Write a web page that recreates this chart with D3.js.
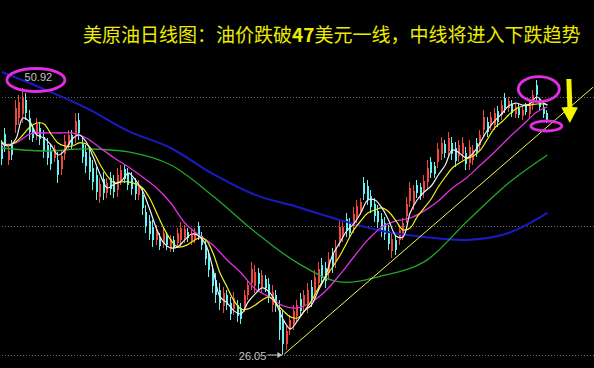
<!DOCTYPE html>
<html>
<head>
<meta charset="utf-8">
<script src="https://cdn.jsdelivr.net/npm/d3@7"></script>
<style>
  html, body { margin: 0; padding: 0; background: #000; overflow: hidden; }
  svg { display: block; }
</style>
</head>
<body>
<svg id="chart" width="594" height="368"></svg>
<script>
// ---- Data: WTI crude oil daily candles ----
const opens = [
  45.50, 46.63, 44.17, 45.61, 47.50, 48.17, 48.48, 49.82, 48.17, 47.07,
  46.59, 47.22, 46.36, 45.63, 45.03, 44.43, 44.24, 43.40, 44.79, 45.62,
  46.54, 46.50, 47.96, 45.68, 44.96, 44.45, 43.51, 42.79, 40.79, 42.45,
  41.15, 42.56, 42.28, 41.45, 42.36, 43.33, 42.96, 42.56, 42.03, 40.96,
  40.98, 39.38, 38.51, 38.00, 36.77, 37.02, 36.49, 37.09, 36.05, 36.77,
  36.49, 36.77, 36.91, 37.55, 36.65, 36.84, 38.02, 37.09, 36.19, 35.21,
  33.79, 32.99, 32.13, 30.58, 31.64, 30.92, 30.32, 30.67, 30.41, 30.57,
  31.65, 32.76, 32.48, 33.65, 32.43, 33.11, 32.65, 30.69, 31.60, 30.25,
  29.20, 27.11, 28.39, 28.97, 29.64, 31.27, 30.57, 30.67, 32.41, 31.88,
  32.76, 34.46, 34.11, 33.69, 35.44, 34.81, 36.75, 37.05, 38.72, 38.34,
  38.03, 38.89, 39.49, 42.09, 41.77, 40.88, 40.12, 39.49, 38.72, 38.37,
  37.58, 35.70, 36.76, 36.77, 37.28, 38.96, 40.42, 40.14, 41.93, 41.67,
  41.22, 42.12, 44.00, 43.66, 44.05, 44.75, 45.66, 45.07, 45.82, 45.31,
  44.54, 44.75, 44.89, 43.98, 44.22, 45.82, 45.62, 46.99, 47.75, 47.43,
  47.52, 48.75, 48.41, 49.98, 49.03, 49.40, 48.47, 49.10, 48.27, 49.24,
  48.54, 49.34, 51.19, 49.71, 49.17, 48.57
];
const highs = [
  46.08, 47.19, 45.43, 46.08, 49.80, 50.27, 50.92, 50.45, 48.87, 47.47,
  48.12, 47.75, 47.01, 46.26, 45.61, 45.61, 44.96, 45.15, 46.54, 47.01,
  47.01, 48.59, 48.59, 46.26, 45.61, 45.15, 44.21, 43.56, 42.54, 43.10,
  42.54, 43.10, 42.82, 43.47, 43.75, 43.75, 43.47, 43.10, 42.54, 42.35,
  41.61, 40.03, 39.09, 38.63, 38.16, 37.42, 37.88, 37.51, 37.23, 37.14,
  37.88, 38.44, 38.16, 37.88, 37.70, 37.88, 38.44, 37.51, 36.77, 35.84,
  34.44, 33.69, 32.76, 32.40, 32.11, 31.46, 31.92, 31.18, 30.90, 32.11,
  33.04, 34.72, 34.44, 34.16, 33.97, 33.51, 33.23, 32.58, 32.11, 31.18,
  30.25, 28.85, 29.78, 30.71, 31.18, 31.83, 32.11, 32.76, 33.04, 33.97,
  34.72, 35.09, 34.72, 35.65, 36.02, 36.77, 38.63, 38.44, 39.28, 38.81,
  39.84, 40.49, 40.68, 42.63, 42.35, 41.42, 40.68, 40.03, 39.28, 38.91,
  38.16, 37.51, 37.23, 38.16, 38.81, 40.77, 42.17, 41.89, 42.35, 42.07,
  42.82, 44.21, 44.49, 44.03, 45.80, 46.36, 46.08, 46.82, 46.36, 45.89,
  46.08, 46.36, 45.43, 46.08, 45.61, 46.26, 47.01, 48.87, 48.22, 48.68,
  49.06, 49.24, 49.80, 50.45, 50.08, 49.80, 49.52, 49.43, 49.24, 49.52,
  49.80, 50.73, 51.66, 49.99, 49.52, 48.87
];
const lows = [
  43.75, 44.96, 43.75, 44.21, 46.73, 47.47, 47.66, 47.94, 46.08, 45.89,
  46.08, 45.61, 44.40, 43.75, 43.28, 44.03, 42.07, 42.82, 44.21, 45.15,
  45.15, 45.80, 46.08, 43.93, 43.00, 42.35, 41.42, 40.49, 40.21, 40.49,
  40.68, 40.96, 40.68, 40.77, 41.89, 42.07, 41.42, 40.96, 40.49, 40.49,
  39.09, 37.42, 36.77, 36.12, 36.30, 35.84, 36.02, 35.84, 35.65, 35.65,
  36.02, 36.21, 36.49, 36.58, 36.30, 36.49, 36.77, 35.84, 34.44, 33.32,
  31.83, 30.90, 30.25, 29.97, 30.25, 29.32, 29.78, 29.13, 28.95, 30.06,
  31.18, 32.11, 31.83, 32.11, 31.92, 31.92, 30.90, 30.06, 30.06, 27.46,
  26.05, 26.53, 27.92, 28.39, 29.13, 29.60, 30.06, 29.97, 30.53, 31.18,
  32.11, 32.58, 32.30, 33.04, 33.69, 34.16, 36.12, 36.58, 37.05, 36.95,
  37.42, 38.35, 39.09, 40.49, 40.03, 39.28, 38.44, 37.88, 37.05, 36.77,
  35.84, 35.09, 35.37, 36.30, 36.77, 38.35, 39.84, 39.56, 40.68, 40.49,
  40.68, 41.42, 42.54, 42.54, 43.47, 44.21, 44.40, 44.49, 44.21, 43.56,
  44.03, 44.21, 43.28, 43.28, 43.75, 44.49, 45.15, 46.36, 46.36, 47.01,
  47.01, 47.29, 47.94, 48.59, 48.68, 48.22, 48.12, 48.12, 47.94, 48.40,
  48.12, 48.87, 49.80, 48.87, 48.12, 47.66
];
const closes = [
  44.33, 45.52, 45.01, 44.68, 49.03, 49.57, 50.10, 48.57, 46.78, 46.29,
  47.61, 46.14, 45.05, 44.38, 43.86, 45.21, 42.79, 44.57, 45.96, 46.54,
  45.62, 47.89, 46.71, 44.51, 43.65, 43.05, 42.12, 41.26, 41.96, 41.14,
  42.07, 41.50, 41.22, 42.79, 43.28, 42.49, 41.93, 41.50, 41.00, 41.88,
  39.72, 38.07, 37.35, 36.75, 37.69, 36.24, 37.41, 36.26, 36.83, 36.02,
  37.41, 37.88, 37.74, 36.91, 37.35, 37.53, 37.19, 36.26, 35.02, 33.95,
  32.48, 31.60, 30.88, 31.79, 30.72, 29.86, 31.38, 29.64, 29.44, 31.60,
  32.57, 34.07, 33.79, 32.62, 33.46, 32.32, 31.48, 31.95, 30.57, 28.39,
  27.10, 28.27, 29.31, 30.13, 30.67, 30.16, 31.60, 32.06, 31.16, 33.27,
  34.07, 33.21, 32.91, 35.00, 34.27, 36.12, 38.00, 37.97, 37.61, 37.42,
  39.23, 39.95, 40.28, 41.03, 40.61, 39.82, 39.00, 38.42, 37.61, 37.31,
  36.42, 36.90, 35.84, 37.69, 38.30, 40.16, 41.59, 41.31, 41.10, 40.89,
  42.28, 43.51, 43.03, 42.91, 45.22, 45.82, 44.82, 46.24, 44.75, 44.14,
  45.57, 45.82, 43.82, 45.38, 45.14, 44.93, 46.54, 48.24, 46.83, 48.26,
  48.55, 47.78, 49.33, 49.06, 49.73, 48.62, 49.17, 48.45, 48.91, 48.68,
  49.38, 50.26, 50.27, 49.15, 48.47, 47.96
];

// Moving averages, one value every `step` bars (plus the last bar)
const ma5Step = 2;
const ma5 = [
  45.80, 45.52, 46.17, 48.12, 47.75, 46.54, 46.26, 45.61, 44.68, 45.15,
  46.17, 46.54, 45.89, 44.49, 42.82, 41.61, 41.98, 42.26, 43.00, 42.35,
  41.33, 39.65, 37.79, 36.49, 36.02, 36.12, 36.77, 37.32, 37.14, 36.30,
  34.07, 31.46, 30.90, 30.16, 29.88, 30.99, 31.74, 32.30, 31.92, 30.81,
  29.32, 28.48, 29.22, 30.16, 30.71, 32.11, 33.41, 35.37, 36.49, 37.60,
  38.26, 39.28, 40.49, 40.49, 39.75, 38.54, 37.14, 37.05, 39.28, 40.49,
  41.23, 41.79, 42.82, 43.75, 45.15, 44.87, 44.40, 44.87, 45.89, 47.01,
  47.84, 48.50, 49.24, 49.52, 49.33, 49.43, 50.08, 49.52, 49.33
];
const ma10Step = 2;
const ma10 = [
  45.89, 45.61, 45.89, 46.54, 47.29, 47.66, 47.57, 46.63, 45.80, 45.52,
  45.52, 45.80, 45.70, 44.96, 43.75, 42.72, 42.07, 42.17, 42.17, 41.98,
  41.61, 40.68, 39.28, 37.88, 36.77, 36.11, 36.21, 36.58, 36.95, 36.77,
  35.56, 33.69, 32.39, 31.09, 30.34, 30.34, 30.71, 31.18, 31.46, 30.81,
  30.16, 29.60, 29.50, 30.16, 31.09, 32.30, 33.32, 34.25, 35.27, 36.49,
  37.70, 38.54, 39.28, 39.56, 39.75, 39.37, 38.54, 37.70, 37.88, 38.91,
  39.75, 40.58, 41.70, 42.63, 43.47, 43.93, 44.31, 44.59, 45.15, 46.17,
  47.19, 47.75, 48.40, 48.96, 49.24, 49.33, 49.43, 49.43, 49.33
];
const ma20Step = 4;
const ma20 = [
  45.61, 45.80, 46.63, 46.73, 46.73, 46.73, 46.26, 45.33, 44.40, 43.56,
  42.63, 41.61, 40.21, 38.35, 37.23, 36.30, 34.90, 33.69, 32.20, 31.46,
  30.62, 30.43, 30.99, 32.02, 33.51, 35.18, 36.77, 37.98, 38.54, 38.81,
  39.47, 40.40, 41.61, 42.54, 43.75, 44.96, 46.26, 47.47, 48.68, 49.15
];
const ma60Step = 12;
const ma60 = [
  45.33, 45.05, 45.24, 44.96, 43.75, 40.86, 37.51, 34.63, 32.86, 33.41,
  34.72, 38.44, 42.07, 44.68
];
const ma120Step = 12;
const ma120 = [
  52.41, 50.82, 49.06, 46.91, 45.33, 42.91, 40.96, 39.84, 38.63, 37.60,
  37.05, 36.77, 37.42, 39.28
];

const gridLevels = [50.08, 38.07, 26.05];
const highMark = { index: 6, value: 50.92, label: "50.92" };
const lowMark = { index: 80, value: 26.05, label: "26.05" };
const peakMark = { index: 152, value: 51.66 };
const lastMark = { index: 155, value: 47.66 };
const trendFrom = { index: 80, value: 26.05 };
const trendTo = { index: 168, value: 51.00 };
const titleParts = ["美原油日线图：油价跌破", "47", "美元一线，中线将进入下跌趋势"];

// ---- Drawing ----
const W = 594, H = 368;
const svg = d3.select("#chart");
svg.append("rect").attr("width", W).attr("height", H).attr("fill", "#000");

const n = closes.length;
const x = d3.scaleLinear().domain([0, n - 1]).range([1.76, 1.76 + 3.52 * (n - 1)]);
const y = d3.scaleLinear().domain([lowMark.value, highMark.value]).range([355, 88]);

// dotted price grid
const grid = svg.append("g").attr("transform", `translate(${W},0)`)
  .call(d3.axisLeft(y).tickValues(gridLevels).tickSize(W).tickFormat(""));
grid.select(".domain").remove();
grid.selectAll(".tick line")
  .attr("stroke", "#6a6a6a").attr("stroke-dasharray", "1,2")
  .attr("shape-rendering", "crispEdges");

// candles
const upColor = "#f0463e", downColor = "#66f2f2";
const bars = d3.range(n).map(i => ({ i, o: opens[i], h: highs[i], l: lows[i], c: closes[i] }));
const cg = svg.append("g").attr("shape-rendering", "crispEdges");
cg.selectAll("rect.wick").data(bars).join("rect")
  .attr("class", "wick")
  .attr("x", d => Math.round(x(d.i)) - 1)
  .attr("width", 1)
  .attr("y", d => y(d.h))
  .attr("height", d => Math.max(1, y(d.l) - y(d.h)))
  .attr("fill", d => d.c >= d.o ? upColor : downColor);
cg.selectAll("rect.body").data(bars).join("rect")
  .attr("class", "body")
  .attr("x", d => Math.round(x(d.i)) - 1)
  .attr("width", 2)
  .attr("y", d => y(Math.max(d.o, d.c)))
  .attr("height", d => Math.max(1, Math.abs(y(d.o) - y(d.c))))
  .attr("fill", d => d.c >= d.o ? upColor : downColor);

// moving averages
const sampleIdx = step => {
  const r = d3.range(0, n, step);
  if (r[r.length - 1] !== n - 1) r.push(n - 1);
  return r;
};
const maLines = [
  { vals: ma120, step: ma120Step, color: "#1a1ac4", width: 2 },
  { vals: ma60, step: ma60Step, color: "#22a828", width: 1.3 },
  { vals: ma20, step: ma20Step, color: "#e030e0", width: 1.3 },
  { vals: ma10, step: ma10Step, color: "#f0f01e", width: 1.2 },
  { vals: ma5, step: ma5Step, color: "#f0f0f0", width: 1.2 }
];
const lineGen = d3.line().x(d => x(d[0])).y(d => y(d[1])).curve(d3.curveCatmullRom.alpha(0.5));
maLines.forEach(m => {
  const idx = sampleIdx(m.step);
  const pts = idx.map((k, j) => [k, m.vals[j]]).filter(p => p[1] !== undefined);
  svg.append("path").datum(pts)
    .attr("d", lineGen)
    .attr("fill", "none")
    .attr("stroke", m.color)
    .attr("stroke-width", m.width);
});

// rising trend line from the low
svg.append("line")
  .attr("x1", x(trendFrom.index) + 1).attr("y1", y(trendFrom.value) - 1)
  .attr("x2", x(trendTo.index)).attr("y2", y(trendTo.value))
  .attr("stroke", "#f4f45a").attr("stroke-width", 1);

// price labels
const labelFont = "'Liberation Sans', Arial, sans-serif";
svg.append("text")
  .attr("x", x(highMark.index) + 15.5).attr("y", y(highMark.value) - 7)
  .attr("text-anchor", "middle")
  .attr("font-family", labelFont).attr("font-size", 11)
  .attr("fill", "#c4c4c4")
  .text(highMark.label);

const lx = x(lowMark.index), ly = y(lowMark.value);
svg.append("text")
  .attr("x", lx - 17).attr("y", ly + 4.5)
  .attr("text-anchor", "end")
  .attr("font-family", labelFont).attr("font-size", 11)
  .attr("fill", "#c4c4c4")
  .text(lowMark.label);
svg.append("line")
  .attr("x1", lx - 16).attr("x2", lx - 4)
  .attr("y1", ly).attr("y2", ly)
  .attr("stroke", "#c4c4c4").attr("stroke-width", 1);
svg.append("path")
  .attr("d", `M${lx - 1},${ly} L${lx - 6},${ly - 3} L${lx - 6},${ly + 3} Z`)
  .attr("fill", "#c4c4c4");

// highlight rings
const ringColor = "#e22ee2";
const rings = [
  { cx: x(highMark.index) + 13, cy: y(highMark.value) - 8, rx: 29, ry: 11.5 },
  { cx: x(peakMark.index) + 2, cy: y(peakMark.value) + 9, rx: 20.5, ry: 12.5 },
  { cx: x(lastMark.index) - 1, cy: y(lastMark.value) + 3, rx: 15.5, ry: 5 }
];
svg.selectAll("ellipse.ring").data(rings).join("ellipse")
  .attr("class", "ring")
  .attr("cx", d => d.cx).attr("cy", d => d.cy)
  .attr("rx", d => d.rx).attr("ry", d => d.ry)
  .attr("fill", "none").attr("stroke", ringColor).attr("stroke-width", 2.8);

// downward arrow
const ax = x(lastMark.index) + 22;
svg.append("path")
  .attr("d", `M${ax - 3},79 L${ax + 2},79 L${ax + 3},107 L${ax + 8.5},107.5 L${ax + 0.5},123 L${ax - 8},107.5 L${ax - 2},107 Z`)
  .attr("fill", "#f5f500");

// title
const title = svg.append("text")
  .attr("x", 83).attr("y", 42)
  .attr("font-family", "'Noto Sans CJK SC', 'Noto Sans', sans-serif")
  .attr("font-size", 19)
  .attr("fill", "#ecec00");
title.append("tspan").text(titleParts[0]);
title.append("tspan").attr("font-weight", "bold").text(titleParts[1]);
title.append("tspan").text(titleParts[2]);
</script>
</body>
</html>
